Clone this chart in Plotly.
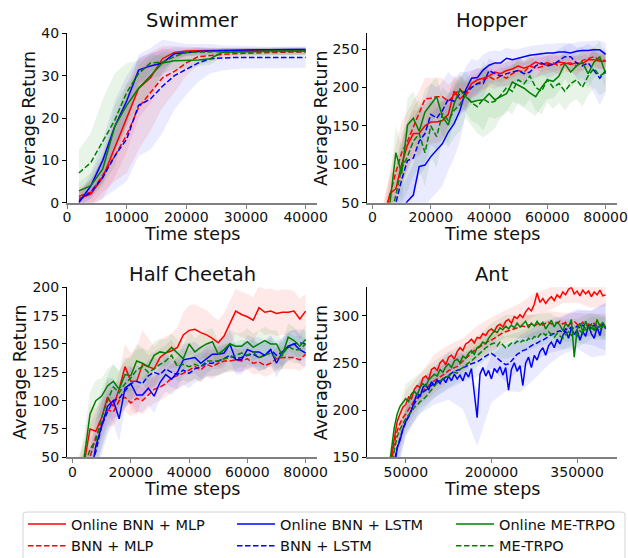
import plotly.graph_objects as go

W, H = 628, 558
FONT = "DejaVu Sans"

# ---------------- data ----------------
series_names = ["Online BNN + MLP", "BNN + MLP", "Online BNN + LSTM",
                "BNN + LSTM", "Online ME-TRPO", "ME-TRPO"]

# Swimmer
swim_x = list(range(2000, 40001, 2000))
swim_on_mlp = [1, 2, 6, 13, 20, 27, 29.5, 34, 35.5, 35.8, 35.9, 36, 36, 36, 36, 36, 36, 36, 36, 36]
swim_on_mlp_sd = [2, 3, 5, 7, 8, 7, 6, 3, 1.5, 1, 0.8, 0.6, 0.5, 0.5, 0.5, 0.5, 0.5, 0.5, 0.5, 0.5]
swim_mlp = [1.5, 2.5, 6.5, 11, 16, 22.5, 26, 29.5, 31, 33, 34.5, 34.8, 35, 35.2, 35.3, 35.4, 35.5, 35.5, 35.6, 35.6]
swim_mlp_sd = [2, 3, 4, 6, 9, 10, 9, 7, 5, 3, 2, 1.5, 1, 1, 1, 0.8, 0.8, 0.8, 0.8, 0.8]
swim_on_lstm = [0, 4, 10, 18, 24, 31.3, 32.3, 33, 35.2, 35.5, 35.7, 35.8, 35.9, 36, 36, 36.1, 36.1, 36.2, 36.2, 36.2]
swim_on_lstm_sd = [1, 3, 5, 6, 6, 3, 3, 3, 1.5, 1, 1, 0.8, 0.7, 0.6, 0.6, 0.6, 0.6, 0.6, 0.6, 0.6]
swim_lstm = [0.5, 2.5, 6, 11, 15, 23, 24.5, 27.5, 30, 31.5, 33, 34, 34.2, 34.3, 34.3, 34.3, 34.3, 34.3, 34.3, 34.3]
swim_lstm_sd = [2, 3, 5, 8, 10, 12, 12, 11, 8, 6, 4.5, 3.5, 3, 2.8, 2.6, 2.5, 2.5, 2.5, 2.5, 2.5]
swim_on_me = [2.8, 4, 8, 18, 23, 27, 30, 33, 33.5, 33.6, 33.7, 34, 35.5, 35.6, 35.7, 35.7, 35.8, 35.8, 35.8, 35.8]
swim_on_me_sd = [2, 3, 4, 5, 5, 4, 4, 2.5, 2, 2, 1.5, 1.5, 1, 0.8, 0.8, 0.8, 0.8, 0.8, 0.8, 0.8]
swim_me = [7, 9.5, 14.5, 19.5, 26, 30.5, 33, 33.2, 34.5, 35.5, 35.6, 35.6, 35.7, 35.7, 35.7, 35.7, 35.7, 35.7, 35.7, 35.7]
swim_me_sd = [5.5, 7, 10, 11, 7, 3, 2, 1.5, 1, 0.8, 0.8, 0.8, 0.8, 0.8, 0.8, 0.8, 0.8, 0.8, 0.8, 0.8]

# Hopper
hop_x = list(range(2000, 80001, 2000))
hop_on_mlp = [10, 30, 62, 68, 100, 125, 140, 140, 150, 155, 155, 157, 165, 195, 185, 192, 205, 210, 212, 215,
              220, 218, 222, 224, 228, 225, 228, 233, 230, 232, 230, 233, 232, 230, 232, 231, 236, 236, 234, 234]
hop_on_mlp_sd = [15, 20, 25, 30, 30, 30, 30, 30, 28, 28, 27, 25, 25, 22, 20, 18, 16, 15, 14, 13,
                 12, 12, 12, 12, 11, 10, 10, 10, 10, 10, 10, 10, 10, 10, 10, 10, 10, 10, 10, 10]
hop_mlp = [10, 35, 60, 90, 115, 130, 148, 165, 185, 186, 188, 188, 182, 190, 198, 190, 200, 205, 210, 214,
           210, 215, 212, 218, 222, 220, 228, 225, 227, 230, 232, 228, 232, 232, 228, 235, 238, 240, 236, 235]
hop_mlp_sd = [15, 20, 30, 35, 40, 40, 35, 30, 28, 26, 25, 24, 22, 20, 18, 16, 15, 14, 14, 13,
              12, 12, 12, 12, 12, 12, 12, 12, 12, 12, 12, 12, 12, 12, 12, 12, 12, 12, 12, 12]
hop_on_lstm = [5, 10, 20, 30, 40, 52, 60, 97, 99, 110, 118, 127, 142, 153, 170, 197, 212, 213, 223, 229,
               232, 232, 238, 236, 238, 240, 242, 243, 244, 245, 245, 246, 246, 245, 247, 248, 248, 249, 249, 243]
hop_on_lstm_sd = [10, 15, 20, 25, 30, 35, 40, 50, 55, 55, 55, 55, 50, 45, 40, 30, 25, 22, 20, 18,
                  16, 15, 14, 13, 12, 12, 12, 12, 12, 12, 12, 12, 12, 12, 12, 12, 12, 12, 12, 15]
hop_lstm = [5, 15, 30, 50, 80, 105, 108, 130, 140, 165, 160, 170, 185, 182, 192, 195, 200, 205, 205, 222,
            218, 215, 218, 220, 222, 218, 220, 228, 232, 228, 230, 235, 240, 240, 232, 228, 232, 222, 212, 222]
hop_lstm_sd = [10, 15, 25, 35, 45, 50, 50, 45, 45, 40, 40, 38, 35, 30, 28, 25, 22, 20, 18, 16,
               15, 15, 15, 15, 15, 15, 15, 15, 15, 15, 15, 15, 15, 18, 20, 25, 25, 30, 35, 30]
hop_on_me = [5, 20, 50, 115, 88, 151, 160, 143, 168, 178, 188, 162, 151, 179, 197, 188, 181, 183, 184, 192,
             184, 188, 192, 207, 203, 199, 193, 188, 200, 210, 208, 215, 231, 220, 228, 233, 218, 233, 240, 218]
hop_on_me_sd = [15, 20, 30, 35, 35, 35, 35, 30, 30, 28, 25, 25, 25, 22, 20, 20, 25, 30, 40, 30,
                25, 25, 25, 25, 25, 25, 25, 25, 25, 25, 22, 20, 20, 20, 20, 20, 20, 20, 20, 20]
hop_me = [5, 15, 30, 60, 95, 110, 130, 140, 115, 150, 136, 166, 157, 170, 178, 190, 180, 175, 185, 180,
          182, 190, 200, 195, 210, 205, 215, 200, 195, 210, 200, 205, 195, 205, 210, 200, 215, 225, 215, 220]
hop_me_sd = [15, 20, 30, 40, 45, 45, 45, 45, 45, 40, 40, 35, 35, 35, 35, 30, 30, 35, 50, 40,
             35, 30, 30, 30, 30, 30, 30, 30, 30, 30, 28, 25, 25, 25, 25, 25, 25, 25, 25, 25]

# Half Cheetah
hc_x = list(range(2000, 80001, 2000))
hc_on_mlp = [30, 45, 75, 73, 85, 103, 95, 110, 130, 117, 117, 132, 130, 128, 138, 142, 144, 147, 158, 162,
             163, 160, 158, 155, 151, 157, 168, 179, 176, 174, 171, 182, 178, 179, 177, 178, 178, 179, 172, 179]
hc_on_mlp_sd = [20, 20, 20, 20, 15, 15, 15, 15, 20, 25, 30, 30, 25, 20, 15, 15, 15, 18, 20, 22,
                22, 22, 22, 20, 20, 20, 20, 20, 20, 20, 20, 20, 20, 20, 20, 20, 20, 18, 18, 15]
hc_mlp = [25, 40, 50, 68, 80, 92, 90, 100, 103, 98, 102, 100, 105, 110, 112, 115, 120, 122, 124, 127,
          130, 127, 132, 130, 133, 135, 135, 136, 135, 137, 133, 134, 131, 133, 137, 138, 138, 138, 136, 141]
hc_mlp_sd = [15, 15, 15, 15, 14, 14, 13, 13, 12, 12, 12, 12, 12, 12, 12, 12, 12, 12, 11, 11,
             11, 11, 11, 11, 11, 10, 10, 10, 10, 10, 10, 10, 10, 10, 10, 10, 10, 10, 10, 10]
hc_on_lstm = [20, 25, 30, 60, 78, 95, 100, 84, 111, 115, 105, 105, 111, 104, 116, 123, 119, 125, 136, 137,
              138, 133, 137, 141, 141, 142, 150, 136, 136, 145, 143, 143, 140, 145, 133, 143, 148, 150, 145, 142]
hc_on_lstm_sd = [15, 20, 25, 25, 25, 25, 20, 20, 18, 16, 15, 15, 15, 15, 15, 15, 14, 14, 14, 14,
                 14, 14, 13, 13, 13, 13, 13, 13, 13, 13, 13, 13, 13, 13, 13, 13, 13, 13, 13, 13]
hc_lstm = [20, 30, 40, 55, 78, 90, 100, 102, 108, 115, 117, 115, 122, 125, 123, 128, 125, 123, 127, 124,
           128, 130, 133, 133, 135, 137, 140, 137, 138, 140, 141, 138, 140, 145, 140, 143, 147, 150, 151, 150]
hc_lstm_sd = [15, 20, 20, 20, 20, 18, 16, 15, 15, 14, 14, 14, 14, 13, 13, 13, 13, 13, 13, 13,
              12, 12, 12, 12, 12, 12, 12, 12, 12, 12, 12, 12, 12, 12, 12, 12, 12, 12, 12, 12]
hc_on_me = [30, 50, 88, 100, 104, 113, 117, 110, 123, 122, 135, 133, 130, 140, 143, 142, 147, 142, 137, 150,
            143, 147, 150, 152, 141, 145, 150, 148, 148, 152, 147, 150, 153, 150, 150, 140, 156, 153, 148, 154]
hc_on_me_sd = [15, 20, 20, 18, 16, 15, 15, 15, 15, 15, 15, 14, 14, 12, 12, 12, 12, 12, 12, 12,
               12, 12, 12, 12, 12, 12, 12, 12, 12, 12, 12, 12, 12, 12, 12, 12, 12, 12, 12, 12]
hc_me = [25, 40, 57, 65, 85, 100, 112, 107, 115, 120, 127, 130, 125, 128, 132, 135, 140, 130, 132, 130,
         132, 130, 135, 135, 135, 137, 138, 140, 142, 140, 143, 138, 140, 142, 137, 140, 148, 145, 145, 150]
hc_me_sd = [15, 20, 22, 25, 25, 22, 20, 20, 20, 20, 18, 16, 15, 15, 14, 14, 14, 14, 14, 14,
            13, 13, 13, 13, 13, 13, 12, 12, 12, 12, 12, 12, 12, 12, 12, 12, 12, 12, 12, 12]

# Ant
ant_x = list(range(5000, 400001, 5000))
ant_on_mlp = [60, 85, 110, 130, 152, 172, 188, 196, 203, 206, 214, 212, 222, 226, 224, 234, 236, 232, 243, 245,
              242, 250, 253, 248, 256, 258, 254, 262, 266, 263, 270, 272, 275, 271, 277, 276, 281, 279, 284, 286,
              283, 289, 291, 288, 294, 296, 292, 299, 297, 301, 298, 304, 308, 305, 312, 324, 314, 318, 313, 317,
              320, 316, 322, 319, 325, 322, 328, 330, 323, 326, 321, 327, 323, 326, 320, 325, 322, 327, 321, 322]
ant_mlp = [50, 75, 100, 122, 145, 165, 178, 186, 192, 196, 201, 205, 210, 213, 218, 221, 223, 226, 229, 231,
           233, 235, 237, 239, 242, 243, 245, 246, 249, 252, 255, 258, 261, 263, 265, 267, 269, 271, 273, 274,
           276, 278, 280, 282, 283, 284, 285, 286, 287, 288, 289, 288, 290, 291, 289, 291, 292, 290, 292, 293,
           291, 293, 292, 294, 291, 293, 290, 292, 294, 291, 290, 293, 289, 291, 290, 292, 289, 291, 288, 290]
ant_on_lstm = [40, 60, 85, 105, 125, 145, 160, 168, 180, 188, 193, 200, 210, 218, 214, 224, 227, 221, 230, 226,
               232, 228, 234, 229, 236, 231, 238, 233, 237, 231, 240, 235, 244, 215, 192, 238, 245, 236, 242, 233,
               244, 240, 246, 237, 245, 221, 243, 250, 241, 247, 226, 250, 256, 245, 258, 253, 262, 266, 258, 268,
               272, 266, 275, 270, 279, 284, 276, 287, 280, 285, 274, 283, 278, 290, 281, 276, 288, 279, 292, 286]
ant_lstm = [40, 65, 90, 110, 128, 145, 160, 170, 180, 187, 193, 200, 207, 212, 216, 219, 221, 224, 226, 228,
            230, 231, 232, 235, 237, 239, 241, 242, 243, 245, 246, 248, 249, 250, 251, 253, 255, 257, 259, 260,
            258, 255, 252, 250, 248, 249, 252, 256, 259, 261, 263, 264, 266, 268, 270, 271, 273, 274, 276, 278,
            280, 281, 283, 284, 282, 286, 285, 288, 286, 289, 287, 290, 286, 289, 287, 290, 286, 289, 287, 288]
ant_on_me = [60, 90, 115, 135, 158, 182, 196, 204, 208, 212, 209, 217, 220, 216, 224, 228, 225, 232, 235, 238,
             236, 243, 240, 246, 249, 245, 252, 254, 250, 257, 255, 260, 263, 259, 266, 268, 272, 270, 276, 280,
             284, 282, 287, 285, 289, 286, 290, 287, 292, 288, 291, 294, 287, 292, 289, 294, 290, 293, 286, 291,
             295, 288, 293, 290, 284, 292, 288, 296, 256, 285, 292, 283, 294, 287, 291, 284, 296, 288, 293, 287]
ant_me = [45, 70, 95, 118, 138, 158, 172, 180, 186, 191, 195, 198, 203, 205, 209, 211, 214, 218, 222, 226,
          229, 231, 233, 235, 236, 238, 240, 239, 243, 245, 248, 250, 252, 255, 258, 261, 263, 266, 268, 270,
          271, 268, 272, 269, 266, 268, 271, 270, 273, 271, 274, 272, 276, 274, 278, 276, 280, 282, 279, 283,
          280, 277, 281, 278, 276, 280, 283, 279, 282, 278, 284, 281, 286, 283, 287, 284, 288, 285, 289, 286]
ant_band_x = [5000, 25000, 50000, 75000, 100000, 125000, 150000, 175000, 200000,
              225000, 250000, 275000, 300000, 325000, 350000, 375000, 400000]
ant_on_mlp_sd = [10, 15, 15, 14, 14, 13, 13, 12, 12, 12, 12, 12, 12, 12, 12, 12, 12]
ant_mlp_sd = [10, 15, 14, 13, 13, 12, 12, 12, 12, 12, 12, 12, 12, 12, 12, 12, 12]
ant_on_lstm_sd = [10, 15, 15, 18, 20, 25, 30, 30, 25, 25, 28, 25, 20, 20, 20, 25, 28]
ant_lstm_sd = [10, 15, 15, 15, 15, 15, 15, 16, 16, 18, 18, 18, 18, 18, 18, 18, 25]
ant_on_me_sd = [10, 15, 16, 15, 14, 13, 12, 12, 12, 12, 12, 12, 12, 12, 12, 12, 12]
ant_me_sd = [10, 15, 14, 13, 13, 12, 12, 12, 12, 12, 12, 12, 12, 12, 12, 12, 12]

# axes / ticks
panel_titles = ["Swimmer", "Hopper", "Half Cheetah", "Ant"]
swim_xticks = [0, 10000, 20000, 30000, 40000]
hop_xticks = [0, 20000, 40000, 60000, 80000]
hc_xticks = [0, 20000, 40000, 60000, 80000]
ant_xticks = [50000, 200000, 350000]
swim_yticks = [0, 10, 20, 30, 40]
hop_yticks = [50, 100, 150, 200, 250]
hc_yticks = [50, 75, 100, 125, 150, 175, 200]
ant_yticks = [150, 200, 250, 300]

# ---------------- style ----------------
colors = ["rgb(255,0,0)", "rgb(255,0,0)", "rgb(0,0,255)", "rgb(0,0,255)", "rgb(0,128,0)", "rgb(0,128,0)"]
fills = ["rgba(255,0,0,0.09)", "rgba(255,0,0,0.09)", "rgba(0,0,255,0.08)", "rgba(0,0,255,0.08)",
         "rgba(0,128,0,0.09)", "rgba(0,128,0,0.09)"]
dashes = ["solid", "5.5px,2.5px"] * 3
legends = ["legend", "legend", "legend2", "legend2", "legend3", "legend3"]


def px_x(p):
    return p / W


def px_y(p):
    return 1 - p / H


XL = [px_x(67), px_x(317)]
XR = [px_x(367), px_x(617)]
YT = [px_y(202.7), px_y(33.3)]
YB = [px_y(457.3), px_y(287.3)]

panels = [
    dict(x=swim_x, ys=[swim_on_mlp, swim_mlp, swim_on_lstm, swim_lstm, swim_on_me, swim_me],
         bx=None, sds=[swim_on_mlp_sd, swim_mlp_sd, swim_on_lstm_sd, swim_lstm_sd, swim_on_me_sd, swim_me_sd],
         xr=[0, 41900], yr=[0, 40], xt=swim_xticks, yt=swim_yticks, dx=XL, dy=YT),
    dict(x=hop_x, ys=[hop_on_mlp, hop_mlp, hop_on_lstm, hop_lstm, hop_on_me, hop_me],
         bx=None, sds=[hop_on_mlp_sd, hop_mlp_sd, hop_on_lstm_sd, hop_lstm_sd, hop_on_me_sd, hop_me_sd],
         xr=[-1900, 83900], yr=[50, 270.5], xt=hop_xticks, yt=hop_yticks, dx=XR, dy=YT),
    dict(x=hc_x, ys=[hc_on_mlp, hc_mlp, hc_on_lstm, hc_lstm, hc_on_me, hc_me],
         bx=None, sds=[hc_on_mlp_sd, hc_mlp_sd, hc_on_lstm_sd, hc_lstm_sd, hc_on_me_sd, hc_me_sd],
         xr=[-1900, 83900], yr=[50, 200], xt=hc_xticks, yt=hc_yticks, dx=XL, dy=YB),
    dict(x=ant_x, ys=[ant_on_mlp, ant_mlp, ant_on_lstm, ant_lstm, ant_on_me, ant_me],
         bx=ant_band_x, sds=[ant_on_mlp_sd, ant_mlp_sd, ant_on_lstm_sd, ant_lstm_sd, ant_on_me_sd, ant_me_sd],
         xr=[-17900, 419900], yr=[150, 330], xt=ant_xticks, yt=ant_yticks, dx=XR, dy=YB),
]

fig = go.Figure()
layout = {}
annotations = []

for i, p in enumerate(panels):
    n = i + 1
    xa = "x" if n == 1 else f"x{n}"
    ya = "y" if n == 1 else f"y{n}"
    # bands
    for k in range(6):
        y = p["ys"][k]
        sd = p["sds"][k]
        if p["bx"] is None:
            bx = p["x"]
            bm = y
        else:
            bx = p["bx"]
            lookup = dict(zip(p["x"], y))
            bm = [lookup[v] for v in bx]
        hi = [m + s for m, s in zip(bm, sd)]
        lo = [m - s for m, s in zip(bm, sd)]
        fig.add_trace(go.Scatter(x=list(bx) + list(bx)[::-1], y=hi + lo[::-1], fill="toself",
                                 fillcolor=fills[k], line=dict(width=0), mode="lines",
                                 hoverinfo="skip", showlegend=False, xaxis=xa, yaxis=ya))
    # lines
    for k in range(6):
        fig.add_trace(go.Scatter(x=p["x"], y=p["ys"][k], mode="lines", name=series_names[k],
                                 line=dict(color=colors[k], width=1.5, dash=dashes[k]),
                                 showlegend=(n == 1), legend=legends[k],
                                 xaxis=xa, yaxis=ya))
    kx = "xaxis" if n == 1 else f"xaxis{n}"
    ky = "yaxis" if n == 1 else f"yaxis{n}"
    layout[kx] = dict(domain=p["dx"], range=p["xr"], anchor=ya, tickvals=p["xt"],
                      ticktext=[str(v) for v in p["xt"]], showline=True, linecolor="#808080",
                      linewidth=1.8, ticks="outside", ticklen=4, tickcolor="#808080", tickwidth=1,
                      showgrid=False, zeroline=False, automargin=False, ticklabelstandoff=-3,
                      tickfont=dict(family=FONT, size=14, color="#111111"))
    layout[ky] = dict(domain=p["dy"], range=p["yr"], anchor=xa, tickvals=p["yt"],
                      ticktext=[str(v) for v in p["yt"]], showline=True, linecolor="#000000",
                      linewidth=1, ticks="outside", ticklen=4, tickcolor="#000000", tickwidth=1,
                      showgrid=False, zeroline=False, automargin=False,
                      tickfont=dict(family=FONT, size=14, color="#111111"))
    cx = (p["dx"][0] + p["dx"][1]) / 2
    top_px = 21 if n <= 2 else 275
    xl_px = 234 if n <= 2 else 489
    yl_px = {1: 29.3, 2: 321, 3: 20.5, 4: 321}[n]
    cy = (p["dy"][0] + p["dy"][1]) / 2
    annotations.append(dict(text=panel_titles[i], x=cx, y=px_y(top_px), xref="paper", yref="paper",
                            xanchor="center", yanchor="middle", showarrow=False,
                            font=dict(family=FONT, size=19.5, color="#111111")))
    annotations.append(dict(text="Time steps", x=cx, y=px_y(xl_px), xref="paper", yref="paper",
                            xanchor="center", yanchor="middle", showarrow=False,
                            font=dict(family=FONT, size=17.5, color="#111111")))
    annotations.append(dict(text="Average Return", x=px_x(yl_px), y=cy, xref="paper", yref="paper",
                            xanchor="center", yanchor="middle", showarrow=False, textangle=-90,
                            font=dict(family=FONT, size=17.5, color="#111111")))

# legend frame (rounded rectangle)
x0, x1 = px_x(23), px_x(625)
y1 = px_y(512)
y0 = -0.05
rx, ry = 3 / W, 3 / H
path = (f"M {x0+rx},{y1} L {x1-rx},{y1} Q {x1},{y1} {x1},{y1-ry} L {x1},{y0} "
        f"L {x0},{y0} L {x0},{y1-ry} Q {x0},{y1} {x0+rx},{y1} Z")
shapes = [dict(type="path", path=path, xref="paper", yref="paper",
               line=dict(color="#d4d4d4", width=1), fillcolor="rgba(255,255,255,0.8)", layer="below")]

leg_common = dict(orientation="v", xanchor="left", yanchor="top", bgcolor="rgba(0,0,0,0)",
                  borderwidth=0, font=dict(family=FONT, size=14.5, color="#111111"),
                  tracegroupgap=0, itemwidth=38)

fig.update_layout(
    width=W, height=H, margin=dict(l=0, r=0, t=0, b=0, autoexpand=False),
    paper_bgcolor="white", plot_bgcolor="rgba(0,0,0,0)",
    font=dict(family=FONT, color="#111111"),
    annotations=annotations, shapes=shapes,
    legend=dict(x=px_x(23), y=px_y(508), **leg_common),
    legend2=dict(x=px_x(232), y=px_y(508), **leg_common),
    legend3=dict(x=px_x(451), y=px_y(508), **leg_common),
    **layout,
)

fig.write_html("out.html", config={"displayModeBar": False},
               post_script="document.body.style.margin='0px';document.body.style.padding='0px';")
